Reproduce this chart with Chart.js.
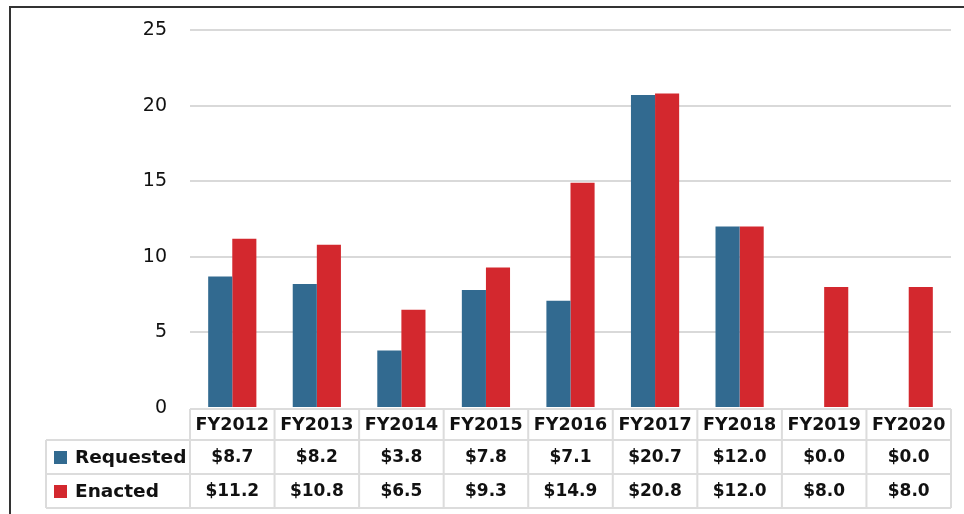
<!DOCTYPE html>
<html>
<head>
<meta charset="utf-8">
<script src="https://cdn.jsdelivr.net/npm/chart.js@4.4.0/dist/chart.umd.min.js"></script>
<style>
  html, body { margin: 0; padding: 0; background: #fff; }
  #wrap { position: relative; width: 964px; height: 514px; }
  #frame { position: absolute; left: 9px; top: 6px; right: 0; bottom: 0; border-left: 2px solid #333; border-top: 2px solid #333; }
</style>
</head>
<body>
<div id="wrap">
  <div id="frame"></div>
  <canvas id="fundChart" width="964" height="514"></canvas>
</div>
<script>
// 数据
const years = ['FY2012', 'FY2013', 'FY2014', 'FY2015', 'FY2016', 'FY2017', 'FY2018', 'FY2019', 'FY2020'];
const requested = [8.7, 8.2, 3.8, 7.8, 7.1, 20.7, 12.0, 0.0, 0.0];
const enacted = [11.2, 10.8, 6.5, 9.3, 14.9, 20.8, 12.0, 8.0, 8.0];
const yTicks = [0, 5, 10, 15, 20, 25];

const blue = '#326a90';
const red = '#d3282e';

// 底部数据表
const dataTablePlugin = {
  id: 'dataTable',
  afterDraw(chart) {
    const ctx = chart.ctx;
    const x = chart.scales.x;
    const area = chart.chartArea;
    const top = area.bottom + 1;
    const rowH = [31, 34, 34];
    const y1 = top + rowH[0];
    const y2 = y1 + rowH[1];
    const y3 = y2 + rowH[2];
    const legendLeft = 46;
    const step = (area.right - area.left) / years.length;

    ctx.save();
    ctx.strokeStyle = '#dcdcdc';
    ctx.lineWidth = 2;
    ctx.beginPath();
    // 横线
    ctx.moveTo(area.left, top); ctx.lineTo(area.right, top);
    ctx.moveTo(legendLeft, y1); ctx.lineTo(area.right, y1);
    ctx.moveTo(legendLeft, y2); ctx.lineTo(area.right, y2);
    ctx.moveTo(legendLeft, y3); ctx.lineTo(area.right, y3);
    // 竖线
    ctx.moveTo(legendLeft, y1); ctx.lineTo(legendLeft, y3);
    for (let i = 0; i <= years.length; i++) {
      const px = area.left + i * step;
      ctx.moveTo(px, top); ctx.lineTo(px, y3);
    }
    ctx.stroke();

    ctx.fillStyle = '#111';
    ctx.textAlign = 'center';
    ctx.textBaseline = 'middle';
    years.forEach((yr, i) => {
      const cx = x.getPixelForValue(i);
      ctx.font = 'bold 17.5px "DejaVu Sans"';
      ctx.fillText(yr, cx, (top + y1) / 2 + 1);
      ctx.font = 'bold 17px "DejaVu Sans"';
      ctx.fillText('$' + requested[i].toFixed(1), cx, (y1 + y2) / 2 + 1);
      ctx.fillText('$' + enacted[i].toFixed(1), cx, (y2 + y3) / 2 + 1);
    });

    // 图例
    const rows = [
      { label: 'Requested', color: blue, cy: (y1 + y2) / 2 },
      { label: 'Enacted', color: red, cy: (y2 + y3) / 2 }
    ];
    ctx.textAlign = 'left';
    ctx.font = 'bold 18.5px "DejaVu Sans"';
    rows.forEach(r => {
      ctx.fillStyle = r.color;
      ctx.fillRect(54, r.cy - 6, 13, 13);
      ctx.fillStyle = '#111';
      ctx.fillText(r.label, 75, r.cy + 1);
    });
    ctx.restore();
  }
};

const ctx = document.getElementById('fundChart').getContext('2d');
new Chart(ctx, {
  type: 'bar',
  data: {
    labels: years,
    datasets: [
      { label: 'Requested', data: requested, backgroundColor: blue },
      { label: 'Enacted', data: enacted, backgroundColor: red }
    ]
  },
  options: {
    responsive: false,
    animation: false,
    layout: { padding: { top: 30, right: 13, bottom: 106, left: 0 } },
    datasets: { bar: { barPercentage: 1, categoryPercentage: 0.57 } },
    plugins: { legend: { display: false }, tooltip: { enabled: false } },
    scales: {
      x: { display: false },
      y: {
        min: 0,
        max: 25,
        afterFit(scale) {
          scale.width = 190;
          scale.paddingTop = 10;
          scale.paddingBottom = 10;
        },
        afterBuildTicks(scale) { scale.ticks = yTicks.map(v => ({ value: v })); },
        border: { display: false },
        grid: {
          drawTicks: false,
          color: ctx => ctx.tick.value === 0 ? 'rgba(0,0,0,0)' : '#d9d9d9',
          lineWidth: 2
        },
        ticks: {
          padding: 23,
          color: '#111',
          font: { family: 'DejaVu Sans', size: 19 }
        }
      }
    }
  },
  plugins: [dataTablePlugin]
});
</script>
</body>
</html>
